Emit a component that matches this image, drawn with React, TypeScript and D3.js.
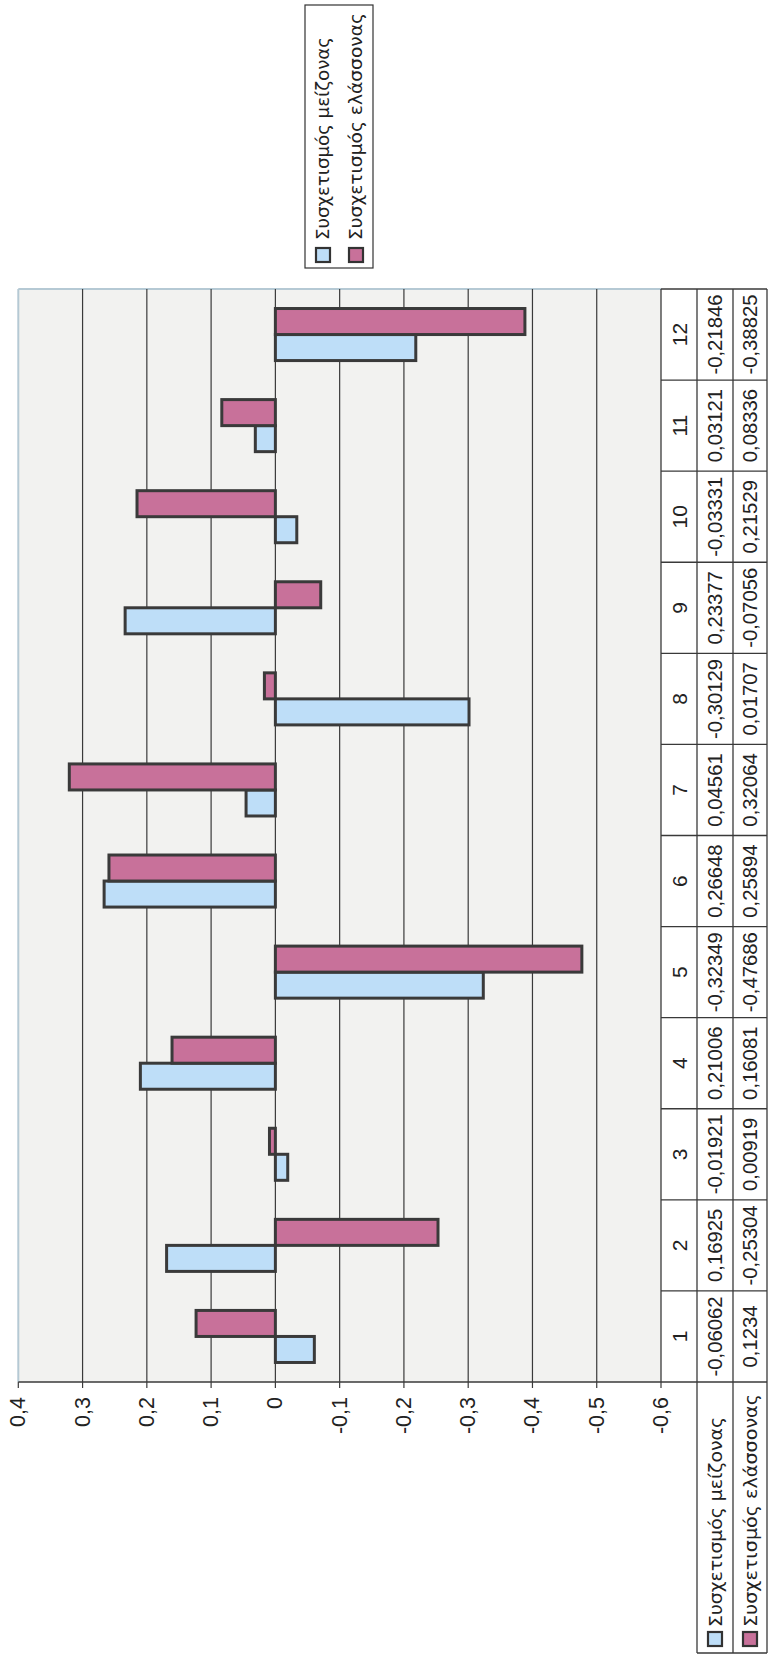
import React from 'react';
import * as d3 from 'd3';

const categories = ['1', '2', '3', '4', '5', '6', '7', '8', '9', '10', '11', '12'];
const seriesNames = ['Συσχετισμός μείζονας', 'Συσχετισμός ελάσσονας'];
const majorValues = [-0.06062, 0.16925, -0.01921, 0.21006, -0.32349, 0.26648, 0.04561, -0.30129, 0.23377, -0.03331, 0.03121, -0.21846];
const minorValues = [0.1234, -0.25304, 0.00919, 0.16081, -0.47686, 0.25894, 0.32064, 0.01707, -0.07056, 0.21529, 0.08336, -0.38825];
const valueTicks = [0.4, 0.3, 0.2, 0.1, 0, -0.1, -0.2, -0.3, -0.4, -0.5, -0.6];
const seriesColors = ['#bedef8', '#c8719a'];

const W = 768;
const H = 1654;

const fmt = (v: number) => (v === 0 ? '0' : String(v).replace('.', ','));

export default function App() {
  // original (unrotated) frame: u horizontal 0..H, v vertical 0..W
  const uL = 272, uR = 1365;
  const vT = 18.3, vB = 661;
  const x = d3.scaleBand<string>().domain(categories).range([uL, uR]);
  const inner = d3.scaleBand<string>().domain(['0', '1']).range([0, x.bandwidth()]).paddingInner(0).paddingOuter(0.75);
  const y = d3.scaleLinear().domain([0.4, -0.6]).range([vT, vB]);
  const series = [majorValues, minorValues];
  const rowV = [661, 697, 733, 767];
  const font = "'Liberation Sans', Arial, sans-serif";
  const gfont = "'DejaVu Sans', 'Liberation Sans', sans-serif";
  const legendLen = [203, 227];
  const headerLen = [210, 233];

  return (
    <svg width={W} height={H} style={{ position: 'absolute', left: 0, top: 0, background: '#fff' }}>
      <rect x={0} y={0} width={W} height={H} fill="#ffffff" />
      <g transform={`translate(0,${H}) rotate(-90)`}>
        {/* plot area */}
        <rect x={uL} y={vT} width={uR - uL} height={vB - vT} fill="#f2f2f0" />
        <line x1={uL} x2={uR} y1={vT} y2={vT} stroke="#b5c9d4" strokeWidth={2} />
        <line x1={uR} x2={uR} y1={vT} y2={vB} stroke="#b5c9d4" strokeWidth={2} />
        {valueTicks.filter((t) => t < 0.4 && t > -0.6).map((t) => (
          <line key={'g' + t} x1={uL} x2={uR} y1={y(t)} y2={y(t)} stroke="#3a3a3a" strokeWidth={1.2} />
        ))}
        {/* bars */}
        {series.map((vals, si) =>
          vals.map((val, ci) => {
            const y0 = y(0), y1 = y(val);
            return (
              <rect
                key={`b${si}-${ci}`}
                x={(x(categories[ci]) as number) + (inner(String(si)) as number)}
                y={Math.min(y0, y1)}
                width={inner.bandwidth()}
                height={Math.abs(y1 - y0)}
                fill={seriesColors[si]}
                stroke="#3a3a3a"
                strokeWidth={3}
              />
            );
          })
        )}
        {/* value axis */}
        <line x1={uL} x2={uL} y1={vT} y2={vB} stroke="#3a3a3a" strokeWidth={1.4} />
        {valueTicks.map((t) => (
          <g key={'t' + t}>
            <line x1={uL - 6} x2={uL} y1={y(t)} y2={y(t)} stroke="#3a3a3a" strokeWidth={1.2} />
            <text x={uL - 15} y={y(t)} textAnchor="end" dominantBaseline="central" fontFamily={font} fontSize={21.5} fill="#222">
              {fmt(t)}
            </text>
          </g>
        ))}
        {/* data table */}
        <line x1={uL} x2={uR} y1={rowV[0]} y2={rowV[0]} stroke="#3a3a3a" strokeWidth={1.3} />
        {rowV.slice(1).map((v) => (
          <line key={'r' + v} x1={1} x2={uR} y1={v} y2={v} stroke="#3a3a3a" strokeWidth={1.3} />
        ))}
        {categories.map((c) => (
          <line key={'c' + c} x1={x(c)} x2={x(c)} y1={rowV[0]} y2={rowV[3]} stroke="#3a3a3a" strokeWidth={1.3} />
        ))}
        <line x1={uR} x2={uR} y1={rowV[0]} y2={rowV[3]} stroke="#3a3a3a" strokeWidth={1.3} />
        <line x1={1} x2={1} y1={rowV[1]} y2={rowV[3]} stroke="#3a3a3a" strokeWidth={1.3} />
        {categories.map((c) => (
          <text key={'cl' + c} x={(x(c) as number) + x.bandwidth() / 2} y={(rowV[0] + rowV[1]) / 2} textAnchor="middle" dominantBaseline="central" fontFamily={font} fontSize={21} fill="#222">
            {c}
          </text>
        ))}
        {series.map((vals, si) =>
          vals.map((val, ci) => (
            <text key={`v${si}-${ci}`} x={(x(categories[ci]) as number) + x.bandwidth() / 2} y={(rowV[si + 1] + rowV[si + 2]) / 2} textAnchor="middle" dominantBaseline="central" fontFamily={font} fontSize={20.3} fill="#222">
              {fmt(val)}
            </text>
          ))
        )}
        {seriesNames.map((name, si) => {
          const vc = (rowV[si + 1] + rowV[si + 2]) / 2;
          return (
            <g key={'h' + si}>
              <rect x={8} y={vc - 7} width={14} height={14} fill={seriesColors[si]} stroke="#333" strokeWidth={2.2} />
              <text x={27} y={vc} dominantBaseline="central" fontFamily={gfont} fontSize={18} textLength={headerLen[si]} lengthAdjust="spacingAndGlyphs" fill="#222">
                {name}
              </text>
            </g>
          );
        })}
        {/* legend */}
        <rect x={1386} y={305} width={263} height={68} fill="#fff" stroke="#333" strokeWidth={1.2} />
        {seriesNames.map((name, si) => {
          const vc = 323 + si * 33;
          return (
            <g key={'l' + si}>
              <rect x={1392} y={vc - 7} width={14} height={14} fill={seriesColors[si]} stroke="#333" strokeWidth={2.2} />
              <text x={1414} y={vc} dominantBaseline="central" fontFamily={gfont} fontSize={17.5} textLength={legendLen[si]} lengthAdjust="spacingAndGlyphs" fill="#222">
                {name}
              </text>
            </g>
          );
        })}
      </g>
    </svg>
  );
}
